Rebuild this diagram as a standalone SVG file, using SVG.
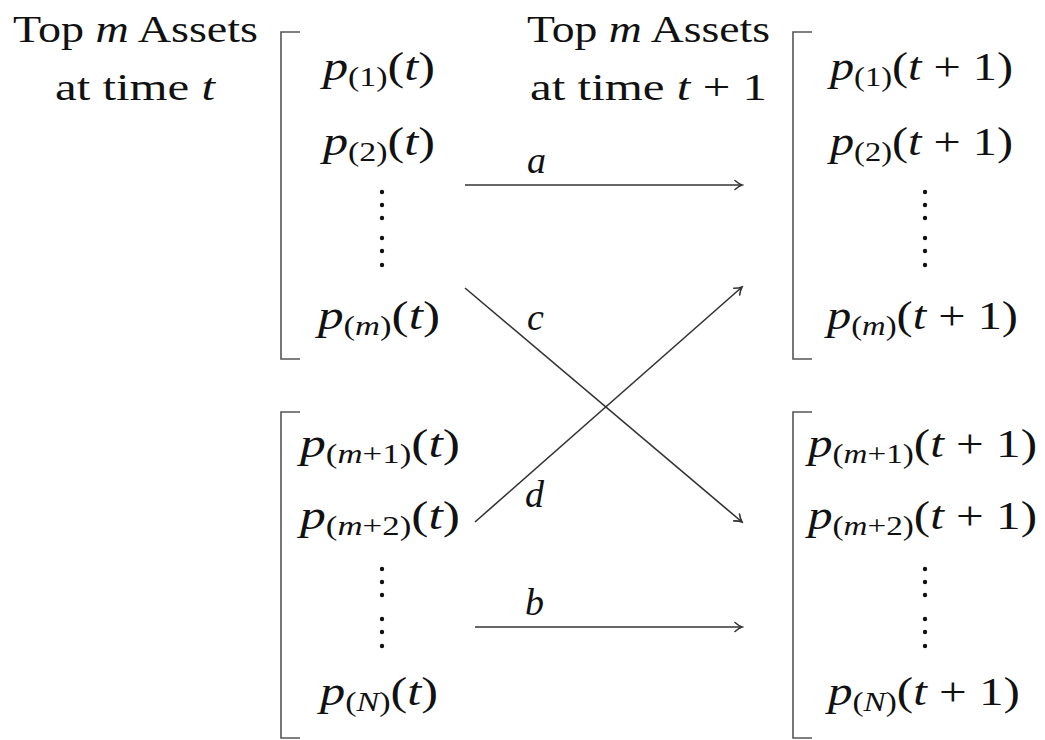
<svg xmlns="http://www.w3.org/2000/svg" width="1045" height="740" viewBox="0 0 1045 740" font-family="'Liberation Serif', 'Times New Roman', serif">
<defs>
<style>
text{font-family:"Liberation Serif","Times New Roman",serif;font-size:38px;fill:#111}
.m{font-size:40px}
.i{font-style:italic}
.s{font-size:27px}
.br{fill:none;stroke:#555;stroke-width:1.6}
.ln{fill:none;stroke:#333;stroke-width:1.6}
.dot{fill:#111}
</style>
<marker id="ah" viewBox="-10 -6 12 12" markerWidth="12" markerHeight="12" refX="0" refY="0" orient="auto" markerUnits="userSpaceOnUse">
<path d="M-7,-4.5 Q-3,-1 0,0 Q-3,1 -7,4.5" fill="none" stroke="#333" stroke-width="1.6" stroke-linecap="round"/>
</marker>
</defs>
<rect width="1045" height="740" fill="#fff"/>

<g id="title-left">
<text x="13" y="42" textLength="245" lengthAdjust="spacingAndGlyphs">Top <tspan class="i">m</tspan> Assets</text>
<text x="55" y="100" textLength="160" lengthAdjust="spacingAndGlyphs">at time <tspan class="i">t</tspan></text>
</g>
<g id="title-mid">
<text x="527" y="42" textLength="243" lengthAdjust="spacingAndGlyphs">Top <tspan class="i">m</tspan> Assets</text>
<text x="530" y="100" textLength="237" lengthAdjust="spacingAndGlyphs">at time <tspan class="i">t</tspan> + 1</text>
</g>

<g id="left-top">
<path class="br" d="M300,32 H281 V359 H300"/>
<text class="m" x="323" y="80" textLength="112" lengthAdjust="spacingAndGlyphs"><tspan class="i">p</tspan><tspan class="s" dy="6">(1)</tspan><tspan dy="-6">(</tspan><tspan class="i">t</tspan>)</text>
<text class="m" x="323" y="155" textLength="112" lengthAdjust="spacingAndGlyphs"><tspan class="i">p</tspan><tspan class="s" dy="6">(2)</tspan><tspan dy="-6">(</tspan><tspan class="i">t</tspan>)</text>
<g class="dot"><circle cx="382" cy="192" r="2.2"/><circle cx="382" cy="205" r="2.2"/><circle cx="382" cy="218" r="2.2"/><circle cx="382" cy="238" r="2.2"/><circle cx="382" cy="251" r="2.2"/><circle cx="382" cy="265" r="2.2"/></g>
<text class="m" x="318" y="329" textLength="122" lengthAdjust="spacingAndGlyphs"><tspan class="i">p</tspan><tspan class="s" dy="6">(<tspan class="i">m</tspan>)</tspan><tspan dy="-6">(</tspan><tspan class="i">t</tspan>)</text>
</g>

<g id="left-bottom">
<path class="br" d="M300,412 H281 V738 H300"/>
<text class="m" x="300" y="457" textLength="160" lengthAdjust="spacingAndGlyphs"><tspan class="i">p</tspan><tspan class="s" dy="6">(<tspan class="i">m</tspan>+1)</tspan><tspan dy="-6">(</tspan><tspan class="i">t</tspan>)</text>
<text class="m" x="300" y="529" textLength="160" lengthAdjust="spacingAndGlyphs"><tspan class="i">p</tspan><tspan class="s" dy="6">(<tspan class="i">m</tspan>+2)</tspan><tspan dy="-6">(</tspan><tspan class="i">t</tspan>)</text>
<g class="dot"><circle cx="382" cy="569" r="2.2"/><circle cx="382" cy="582" r="2.2"/><circle cx="382" cy="595" r="2.2"/><circle cx="382" cy="619" r="2.2"/><circle cx="382" cy="632" r="2.2"/><circle cx="382" cy="646" r="2.2"/></g>
<text class="m" x="320" y="705" textLength="118" lengthAdjust="spacingAndGlyphs"><tspan class="i">p</tspan><tspan class="s" dy="6">(<tspan class="i">N</tspan>)</tspan><tspan dy="-6">(</tspan><tspan class="i">t</tspan>)</text>
</g>

<g id="right-top">
<path class="br" d="M812,32 H793 V359 H812"/>
<text class="m" x="830" y="80" textLength="183" lengthAdjust="spacingAndGlyphs"><tspan class="i">p</tspan><tspan class="s" dy="6">(1)</tspan><tspan dy="-6">(</tspan><tspan class="i">t</tspan> + 1)</text>
<text class="m" x="830" y="155" textLength="183" lengthAdjust="spacingAndGlyphs"><tspan class="i">p</tspan><tspan class="s" dy="6">(2)</tspan><tspan dy="-6">(</tspan><tspan class="i">t</tspan> + 1)</text>
<g class="dot"><circle cx="925" cy="192" r="2.2"/><circle cx="925" cy="205" r="2.2"/><circle cx="925" cy="218" r="2.2"/><circle cx="925" cy="238" r="2.2"/><circle cx="925" cy="251" r="2.2"/><circle cx="925" cy="265" r="2.2"/></g>
<text class="m" x="827" y="329" textLength="191" lengthAdjust="spacingAndGlyphs"><tspan class="i">p</tspan><tspan class="s" dy="6">(<tspan class="i">m</tspan>)</tspan><tspan dy="-6">(</tspan><tspan class="i">t</tspan> + 1)</text>
</g>

<g id="right-bottom">
<path class="br" d="M812,412 H793 V738 H812"/>
<text class="m" x="808" y="457" textLength="229" lengthAdjust="spacingAndGlyphs"><tspan class="i">p</tspan><tspan class="s" dy="6">(<tspan class="i">m</tspan>+1)</tspan><tspan dy="-6">(</tspan><tspan class="i">t</tspan> + 1)</text>
<text class="m" x="808" y="529" textLength="229" lengthAdjust="spacingAndGlyphs"><tspan class="i">p</tspan><tspan class="s" dy="6">(<tspan class="i">m</tspan>+2)</tspan><tspan dy="-6">(</tspan><tspan class="i">t</tspan> + 1)</text>
<g class="dot"><circle cx="925" cy="569" r="2.2"/><circle cx="925" cy="582" r="2.2"/><circle cx="925" cy="595" r="2.2"/><circle cx="925" cy="619" r="2.2"/><circle cx="925" cy="632" r="2.2"/><circle cx="925" cy="646" r="2.2"/></g>
<text class="m" x="828" y="705" textLength="192" lengthAdjust="spacingAndGlyphs"><tspan class="i">p</tspan><tspan class="s" dy="6">(<tspan class="i">N</tspan>)</tspan><tspan dy="-6">(</tspan><tspan class="i">t</tspan> + 1)</text>
</g>

<g id="connectors">
<line class="ln" x1="465" y1="185" x2="742" y2="185" marker-end="url(#ah)"/>
<line class="ln" x1="465" y1="288" x2="742" y2="522" marker-end="url(#ah)"/>
<line class="ln" x1="475" y1="522" x2="742" y2="287" marker-end="url(#ah)"/>
<line class="ln" x1="475" y1="627" x2="742" y2="627" marker-end="url(#ah)"/>
<text class="i" x="527" y="173">a</text>
<text class="i" x="527" y="330">c</text>
<text class="i" x="525" y="507">d</text>
<text class="i" x="525" y="615">b</text>
</g>
</svg>
